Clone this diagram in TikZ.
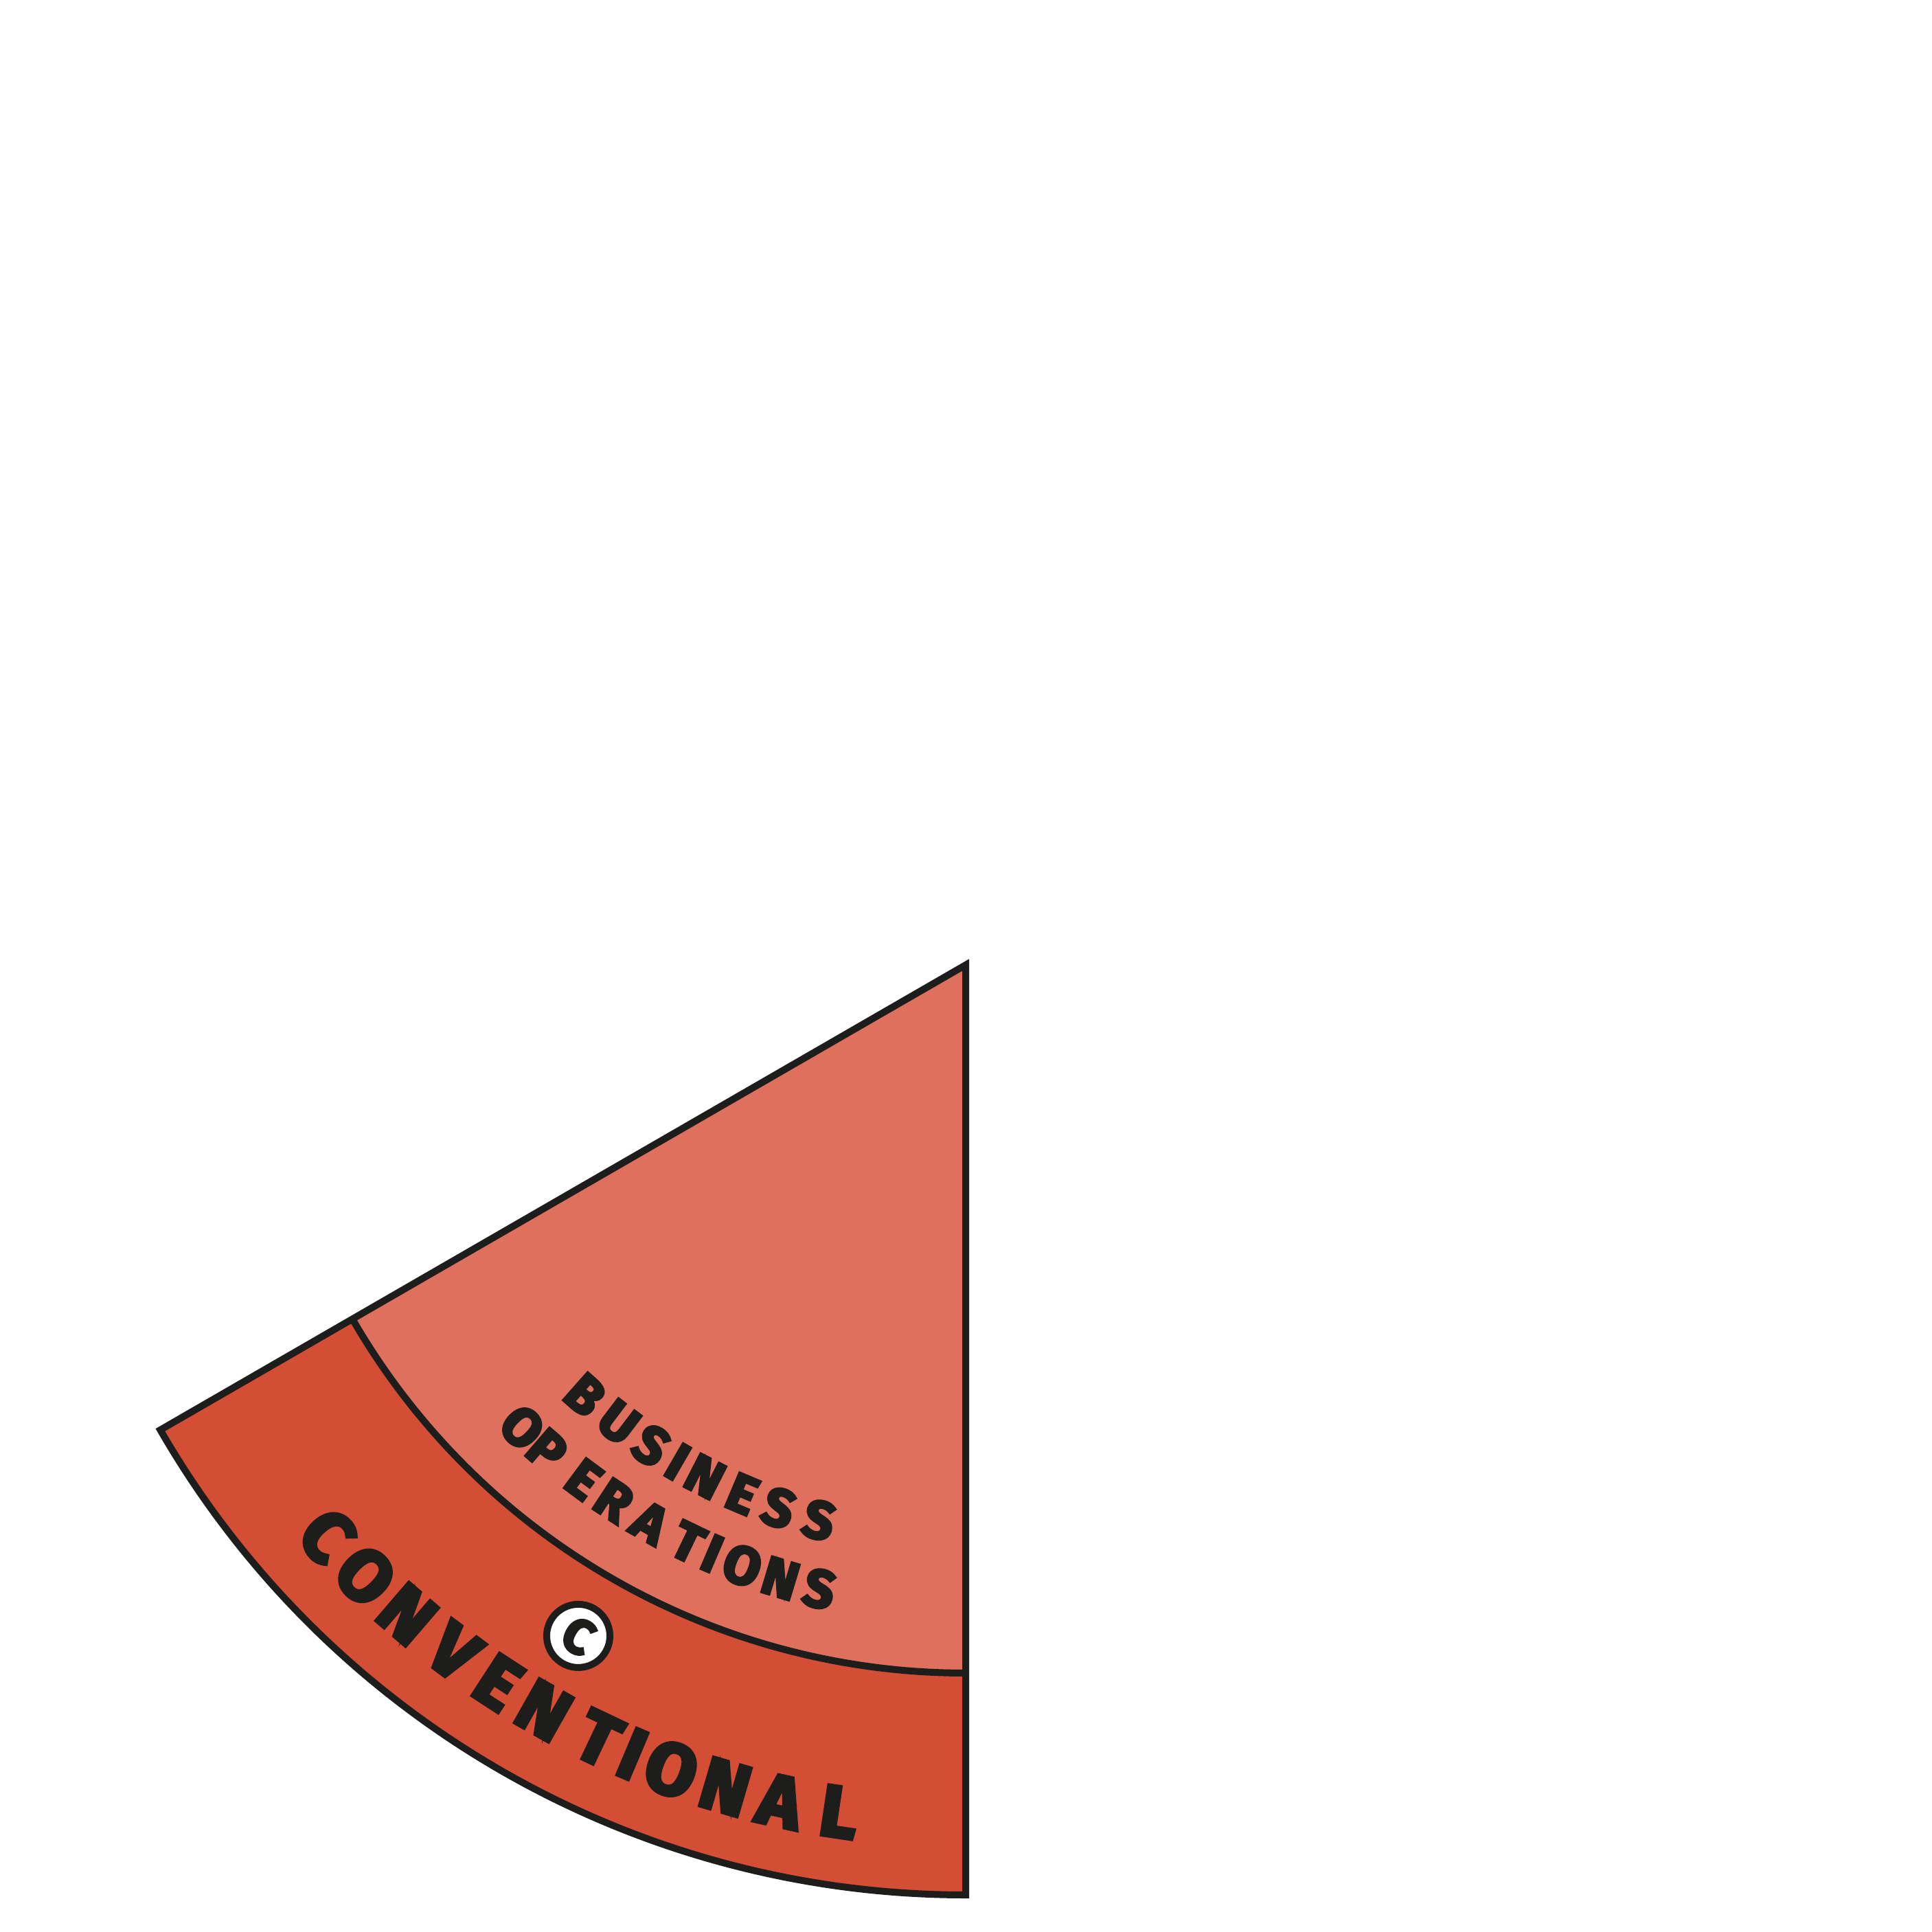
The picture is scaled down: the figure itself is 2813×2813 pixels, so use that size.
\documentclass[tikz,border=0pt]{standalone}
\usepackage{fontspec}
\usetikzlibrary{positioning}
\newfontfamily\slicefont{Fira Sans}[BoldFeatures={FakeBold=5}]
\definecolor{slicedark}{HTML}{1D1D1B}
\definecolor{sliceouter}{HTML}{D44D35}
\definecolor{sliceinner}{HTML}{E0705E}

\begin{document}
\begin{tikzpicture}[
    x=0.01cm, y=0.01cm,
    edge/.style={draw=slicedark, line width=0.1cm, line join=miter},
    bigletter/.style={inner sep=0pt, text=slicedark, font=\slicefont\bfseries\fontsize{30}{30}\selectfont},
    smallletter/.style={inner sep=0pt, text=slicedark, font=\slicefont\bfseries\fontsize{22}{22}\selectfont},
    badge/.style={circle, draw=slicedark, fill=white, line width=0.1cm, minimum size=0.92cm, inner sep=0pt, text=slicedark, font=\slicefont\bfseries\fontsize{20}{20}\selectfont}
]
\useasboundingbox (-1406,-1408) rectangle (1407,1405);

% Bands
\fill[sliceouter] (0,0) -- (210:1354) arc[start angle=210, end angle=270, radius=1354] -- cycle;
\fill[sliceinner] (0,0) -- (210:1031) arc[start angle=210, end angle=270, radius=1031] -- cycle;

% Outlines
\draw[edge] (210:1031) arc[start angle=210, end angle=270, radius=1031];
\draw[edge] (0,0) -- (210:1354) arc[start angle=210, end angle=270, radius=1354] -- cycle;

% Outer label
\foreach \ch/\ang [count=\i] in {C/221.8, O/225.5, N/229.3, V/233.3, E/236.9, N/240.5, T/244.6, I/247.1, O/249.9, N/253.7, A/257.5, L/261.5}
    \node[bigletter, rotate=\ang+90] (conv\i) at (\ang:1247) {\ch};

% Inner label
\foreach \ch/\ang [count=\i] in {B/228.5, U/232.8, S/236.8, I/239.9, N/243.0, E/247.1, S/251.0, S/255.2}
    \node[smallletter, rotate=\ang+90] (bus\i) at (\ang:836) {\ch};
\foreach \ch/\ang [count=\i] in {O/226.2, P/229.2, E/233.4, R/236.7, A/240.5, T/244.3, I/246.7, O/249.6, N/253.2, S/256.8}
    \node[smallletter, rotate=\ang+90] (ops\i) at (\ang:933) {\ch};

% Badge
\node[badge, rotate=-30] (badge) at (240:1128) {C};
\end{tikzpicture}
\end{document}
